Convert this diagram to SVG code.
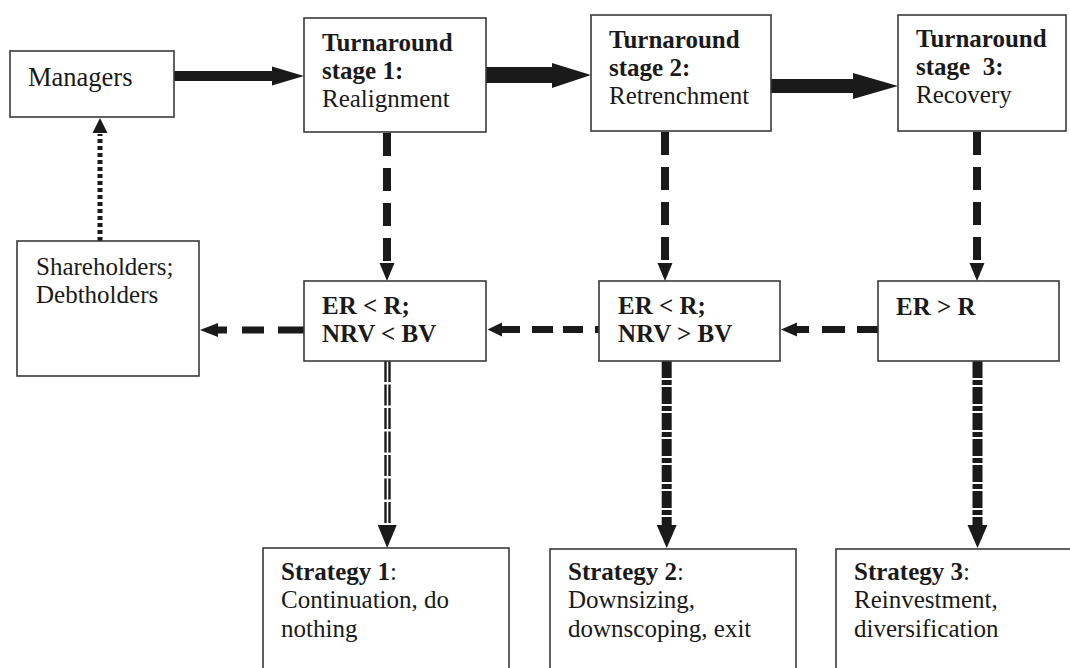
<svg xmlns="http://www.w3.org/2000/svg" width="1070" height="668" viewBox="0 0 1070 668">
<style>
.box{fill:#fff;stroke:#3a3a3a;stroke-width:1.6}
text{font-family:"Liberation Serif","Times New Roman",serif;font-size:25px;fill:#1a1a1a}
.b{font-weight:bold}
.ah{fill:#1a1a1a}
.dash{stroke:#1a1a1a;fill:none}
</style>
<rect width="1070" height="668" fill="#fff"/>
<g id="connectors">
<rect x="174" y="71" width="99" height="10" class="ah"/>
<polygon points="272,66.5 304,76 272,85.5" class="ah"/>
<rect x="486" y="67" width="67" height="16" class="ah"/>
<polygon points="552,63 591,75 552,88" class="ah"/>
<rect x="771" y="79" width="83" height="14" class="ah"/>
<polygon points="853,73 898,86 853,99" class="ah"/>
<line x1="100" y1="241" x2="100" y2="134" class="dash" stroke-width="5" stroke-dasharray="4 3"/>
<polygon points="92.5,133 107.5,133 100,118" class="ah"/>
<line x1="387" y1="133" x2="387" y2="264" class="dash" stroke-width="8" stroke-dasharray="23 12"/>
<polygon points="379.5,263 394.5,263 387,281" class="ah"/>
<line x1="665" y1="132" x2="665" y2="264" class="dash" stroke-width="8" stroke-dasharray="23 12"/>
<polygon points="657.5,263 672.5,263 665,281" class="ah"/>
<line x1="977" y1="132" x2="977" y2="264" class="dash" stroke-width="8" stroke-dasharray="23 12"/>
<polygon points="969.5,263 984.5,263 977,281" class="ah"/>
<line x1="304" y1="330" x2="217" y2="330" class="dash" stroke-width="7" stroke-dasharray="26 14 22 15 30"/>
<polygon points="218,323 218,337 200,330" class="ah"/>
<line x1="599" y1="329.5" x2="501" y2="329.5" class="dash" stroke-width="7" stroke-dasharray="4 12 20 10 21 12 40"/>
<polygon points="502,322.5 502,336.5 487.5,329.5" class="ah"/>
<line x1="878" y1="329.5" x2="796" y2="329.5" class="dash" stroke-width="7" stroke-dasharray="21 12 23 13 40"/>
<polygon points="797,322.5 797,336.5 781,329.5" class="ah"/>
<line x1="385.5" y1="361" x2="385.5" y2="526" class="dash" stroke-width="2.4" stroke-dasharray="21 2.5"/>
<line x1="389.5" y1="361" x2="389.5" y2="526" class="dash" stroke-width="2.4" stroke-dasharray="21 2.5"/>
<polygon points="377.7,525 396.7,525 387.2,548" class="ah"/>
<line x1="666.7" y1="361" x2="666.7" y2="526" class="dash" stroke-width="10" stroke-dasharray="17 2 5 2"/>
<polygon points="656.7,525 676.7,525 666.7,548" class="ah"/>
<line x1="977.5" y1="361" x2="977.5" y2="526" class="dash" stroke-width="10" stroke-dasharray="17 2 5 2"/>
<polygon points="967.5,525 987.5,525 977.5,548" class="ah"/>
</g>
<g id="managers">
<rect x="10" y="51" width="164" height="66" class="box"/>
<text x="28" y="86" style="font-size:26.5px">Managers</text>
</g>
<g id="stage1">
<rect x="304" y="18" width="182" height="114" class="box"/>
<text x="322" y="51" class="b">Turnaround</text>
<text x="322" y="79" class="b">stage 1:</text>
<text x="322" y="107">Realignment</text>
</g>
<g id="stage2">
<rect x="591" y="15" width="180" height="116" class="box"/>
<text x="609" y="48" class="b">Turnaround</text>
<text x="609" y="76" class="b">stage 2:</text>
<text x="609" y="104">Retrenchment</text>
</g>
<g id="stage3">
<rect x="898" y="15" width="168" height="116" class="box"/>
<text x="916" y="47" class="b">Turnaround</text>
<text x="916" y="75" class="b" xml:space="preserve">stage  3:</text>
<text x="916" y="103">Recovery</text>
</g>
<g id="shareholders">
<rect x="17" y="241" width="182" height="135" class="box"/>
<text x="36" y="275">Shareholders;</text>
<text x="36" y="303">Debtholders</text>
</g>
<g id="er1">
<rect x="304" y="281" width="182" height="80" class="box"/>
<text x="322" y="314" class="b">ER &lt; R;</text>
<text x="322" y="342" class="b">NRV &lt; BV</text>
</g>
<g id="er2">
<rect x="599" y="281" width="181" height="80" class="box"/>
<text x="618" y="314" class="b">ER &lt; R;</text>
<text x="618" y="342" class="b">NRV &gt; BV</text>
</g>
<g id="er3">
<rect x="878" y="281" width="181" height="80" class="box"/>
<text x="896" y="315" class="b">ER &gt; R</text>
</g>
<g id="strategy1">
<rect x="263" y="548" width="246" height="130" class="box"/>
<text x="281" y="580"><tspan class="b">Strategy 1</tspan>:</text>
<text x="281" y="608">Continuation, do</text>
<text x="281" y="637">nothing</text>
</g>
<g id="strategy2">
<rect x="550" y="549" width="246" height="130" class="box"/>
<text x="568" y="580"><tspan class="b">Strategy 2</tspan>:</text>
<text x="568" y="608">Downsizing,</text>
<text x="568" y="637">downscoping, exit</text>
</g>
<g id="strategy3">
<rect x="836" y="549" width="250" height="130" class="box"/>
<text x="854" y="580"><tspan class="b">Strategy 3</tspan>:</text>
<text x="854" y="608">Reinvestment,</text>
<text x="854" y="637">diversification</text>
</g>
</svg>
